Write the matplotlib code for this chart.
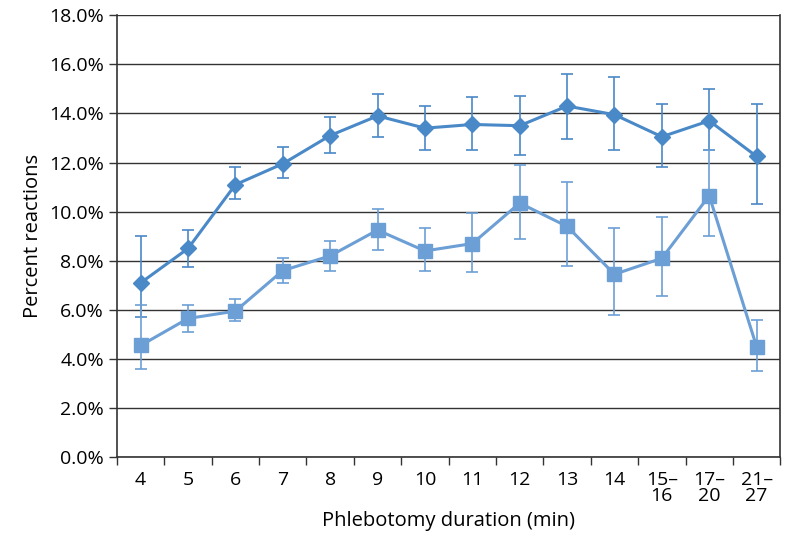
import numpy as np
import matplotlib.pyplot as plt
from matplotlib.ticker import FuncFormatter

plt.rcParams['font.family'] = ['Open Sans', 'DejaVu Sans']

# Dados
categorias = ['4', '5', '6', '7', '8', '9', '10', '11', '12', '13', '14',
              '15–\n16', '17–\n20', '21–\n27']
losango = [7.1, 8.5, 11.1, 11.95, 13.1, 13.9, 13.4, 13.55, 13.5, 14.3, 13.95, 13.05, 13.7, 12.25]
losango_sup = [9.0, 9.25, 11.8, 12.65, 13.85, 14.8, 14.3, 14.65, 14.7, 15.6, 15.5, 14.4, 15.0, 14.4]
losango_inf = [5.7, 7.75, 10.5, 11.35, 12.4, 13.05, 12.5, 12.5, 12.3, 12.95, 12.5, 11.8, 12.5, 10.3]
quadrado = [4.55, 5.65, 5.95, 7.6, 8.2, 9.25, 8.4, 8.7, 10.35, 9.4, 7.45, 8.1, 10.65, 4.5]
quadrado_sup = [6.2, 6.2, 6.45, 8.1, 8.8, 10.1, 9.35, 9.95, 11.9, 11.2, 9.35, 9.8, 12.5, 5.6]
quadrado_inf = [3.6, 5.1, 5.55, 7.1, 7.6, 8.45, 7.6, 7.55, 8.9, 7.8, 5.8, 6.55, 9.0, 3.5]

x = np.arange(len(categorias))

fig = plt.figure(figsize=(7.85, 5.43), dpi=100)
ax = fig.add_axes([0.149, 0.158, 0.845, 0.814])

# Grade horizontal
for v in np.arange(0, 18.1, 2):
    ax.axhline(v, color='#333333', lw=1.0, zorder=1)

def desenha(y, sup, inf, cor, marcador, tam):
    y = np.array(y)
    err = [y - np.array(inf), np.array(sup) - y]
    ax.errorbar(x, y, yerr=err, color=cor, lw=2.2, marker=marcador, ms=tam,
                ecolor=cor, elinewidth=1.2, capsize=4, capthick=1.2, zorder=3)

desenha(losango, losango_sup, losango_inf, '#4a89c8', 'D', 8)
desenha(quadrado, quadrado_sup, quadrado_inf, '#6c9fd5', 's', 10)

ax.set_xlim(-0.5, len(categorias) - 0.5)
ax.set_ylim(0, 18)
ax.set_yticks(np.arange(0, 18.1, 2))
ax.yaxis.set_major_formatter(FuncFormatter(lambda v, p: f'{v:.1f}%'))
ax.set_xticks(x)
ax.set_xticklabels(categorias, va='top', linespacing=0.85)
ax.set_xticks(np.arange(-0.5, len(categorias), 1), minor=True)
ax.tick_params(axis='x', which='major', length=0, pad=10, labelsize=14)
ax.tick_params(axis='x', which='minor', length=6, width=1, direction='out', color='#333333')
ax.tick_params(axis='y', length=6, width=1, color='#333333', labelsize=14)

ax.spines['top'].set_visible(False)
for lado in ['left', 'right', 'bottom']:
    ax.spines[lado].set_color('#333333')
    ax.spines[lado].set_linewidth(1.2)

ax.set_xlabel('Phlebotomy duration (min)', fontsize=14.5, labelpad=4)
ax.set_ylabel('Percent reactions', fontsize=14.5, labelpad=4)

plt.savefig('out.png', dpi=100)
